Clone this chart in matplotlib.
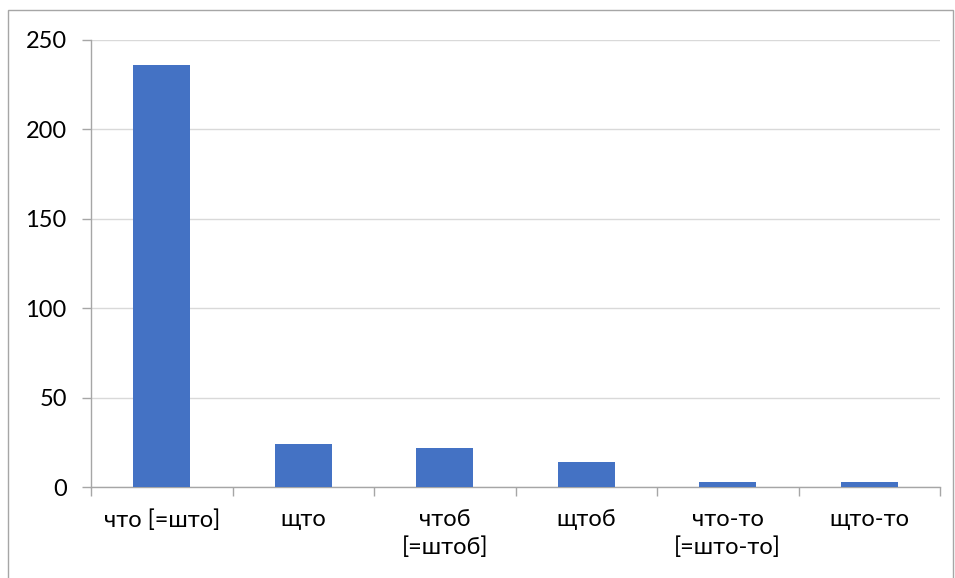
import matplotlib
matplotlib.use("Agg")
import matplotlib.pyplot as plt
from matplotlib.patches import Rectangle

categories = ["что [=што]", "щто", "чтоб\n[=штоб]", "щтоб", "что-то\n[=што-то]", "щто-то"]
counts = [236, 24, 22, 14, 3, 3]
y_ticks = [0, 50, 100, 150, 200, 250]

plt.rcParams["font.family"] = ["Lato", "DejaVu Sans"]

W, H = 955, 578
fig = plt.figure(figsize=(W / 100, H / 100), dpi=100)
ax = fig.add_axes([91 / W, 1 - 487 / H, (940 - 91) / W, (487 - 40) / H])

axis_grey = "#a6a6a6"
grid_grey = "#d9d9d9"

ax.bar(range(len(counts)), counts, width=0.4, color="#4472c4", zorder=3)
ax.set_xlim(-0.5, len(counts) - 0.5)
ax.set_ylim(0, 250)
ax.set_yticks(y_ticks)
ax.set_yticklabels([str(v) for v in y_ticks])
ax.yaxis.grid(True, color=grid_grey, linewidth=1, zorder=0)
ax.set_axisbelow(True)

# category tick marks sit on the boundaries between bars
ax.set_xticks([i - 0.5 for i in range(len(counts) + 1)], minor=False)
ax.set_xticklabels([])
ax.set_xticks(range(len(counts)), minor=True)
ax.set_xticklabels(categories, minor=True, fontsize=17, linespacing=1.33, va="top")
ax.tick_params(axis="x", which="major", length=6.5, color=axis_grey, width=1)
ax.tick_params(axis="x", which="minor", length=0, pad=16)
ax.tick_params(axis="y", length=6.5, color=axis_grey, width=1, labelsize=17, pad=11)

for side in ("top", "right"):
    ax.spines[side].set_visible(False)
for side in ("left", "bottom"):
    ax.spines[side].set_color(axis_grey)
    ax.spines[side].set_linewidth(1)

# outer chart border
fig.patches.append(Rectangle((8 / W, -0.01), (953 - 8) / W, 1 - 10 / H + 0.01,
                             transform=fig.transFigure, fill=False,
                             edgecolor="#a6a6a6", linewidth=1))

fig.savefig("out.png", dpi=100)
